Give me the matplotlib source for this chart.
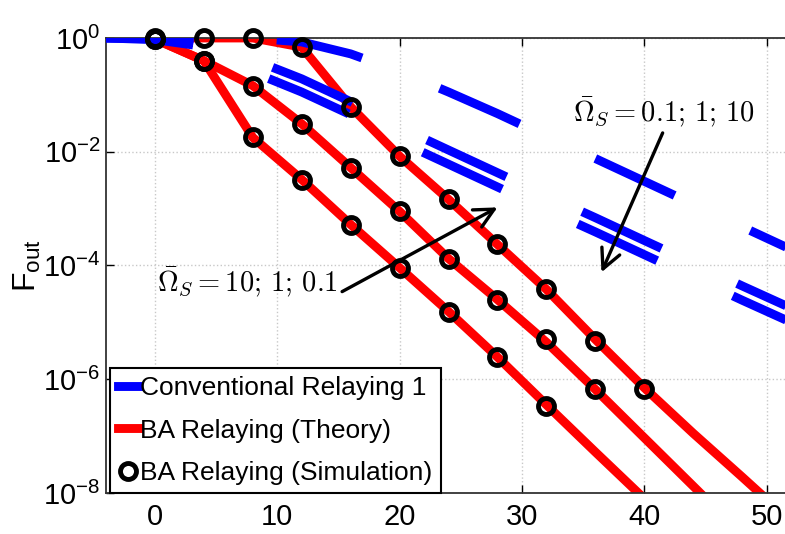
import numpy as np
import matplotlib
matplotlib.use('Agg')
import matplotlib.pyplot as plt
from matplotlib.ticker import FixedLocator, NullLocator, LogFormatterSciNotation

plt.rcParams['font.family'] = ['Liberation Sans', 'DejaVu Sans']
plt.rcParams['lines.scale_dashes'] = False

# SNR grid (dB)
snr_conv = [-4, 0, 4, 8, 12, 16, 20, 24, 28, 32, 36, 40, 44, 48, 52]
snr_ba = [0, 4, 8, 12, 16, 20, 24, 28, 32, 36, 40, 44, 48, 52]

# conventional relaying (three curves)
conv_1 = [1.0, 1.0, 1.0, 0.991, 0.851, 0.525, 0.257, 0.112, 4.68e-2, 1.86e-2,
          7.59e-3, 3.02e-3, 1.20e-3, 4.79e-4, 1.91e-4]
conv_2 = [1.0, 0.966, 0.794, 0.417, 0.191, 7.59e-2, 2.69e-2, 1.07e-2, 4.27e-3,
          1.70e-3, 6.92e-4, 2.75e-4, 1.10e-4, 4.37e-5, 1.78e-5]
conv_3 = [1.0, 0.933, 0.708, 0.251, 0.112, 4.47e-2, 1.51e-2, 6.03e-3, 2.40e-3,
          9.55e-4, 3.89e-4, 1.55e-4, 6.17e-5, 2.45e-5, 1.0e-5]

# BA relaying theory, Omega_S = 10, 1, 0.1
ba_10 = [0.955, 0.398, 1.78e-2, 3.24e-3, 5.25e-4, 9.12e-5, 1.55e-5, 2.45e-6,
         3.55e-7, 5.25e-8, 7.94e-9]
ba_1 = [0.955, 0.398, 0.145, 3.09e-2, 5.25e-3, 8.91e-4, 1.32e-4, 2.51e-5,
        4.47e-6, 6.61e-7, 9.33e-8, 1.32e-8, 1.86e-9]
ba_01 = [1.0, 1.0, 1.0, 0.69, 6.17e-2, 8.32e-3, 1.45e-3, 2.34e-4, 3.80e-5,
         5.01e-6, 7.08e-7, 1.12e-7, 1.91e-8, 3.16e-9]

# BA relaying simulation
sim_10 = [0.955, 0.398, 1.78e-2, 3.24e-3, 5.25e-4, 9.12e-5, 1.55e-5, 2.45e-6, 3.39e-7]
sim_1 = [0.955, 0.398, 0.145, 3.09e-2, 5.25e-3, 8.91e-4, 1.32e-4, 2.51e-5, 5.01e-6, 6.61e-7]
sim_01 = [1.0, 1.0, 1.0, 0.69, 6.17e-2, 8.32e-3, 1.45e-3, 2.34e-4, 3.80e-5, 4.68e-6, 6.61e-7]

fig = plt.figure(figsize=(7.85, 5.34), dpi=100)
ax = fig.add_axes([0.1350, 0.0768, 0.8650, 0.8521])

lw = 6.4
ms, mew = 11.5, 3.5
for y in (ba_10, ba_1, ba_01):
    ax.plot(snr_ba[:len(y)], y, color='red', lw=lw, solid_capstyle='butt', zorder=2)
for y in (conv_1, conv_2, conv_3):
    ax.plot(snr_conv, y, color='blue', lw=lw, dashes=(63, 60), dash_capstyle='butt', zorder=3)
for y in (sim_10, sim_1, sim_01):
    ax.plot(snr_ba[:len(y)], y, ls='none', marker='o', ms=ms, mew=mew,
            mec='black', mfc='none', zorder=4, clip_on=False)

ax.set_yscale('log')
ax.set_xlim(-4, 51.5)
ax.set_ylim(1e-8, 1)
ax.xaxis.set_major_locator(FixedLocator([0, 10, 20, 30, 40, 50]))
ax.yaxis.set_major_locator(FixedLocator([1e-8, 1e-6, 1e-4, 1e-2, 1]))
ax.yaxis.set_major_formatter(LogFormatterSciNotation())
ax.yaxis.set_minor_locator(NullLocator())
ax.grid(True, ls=':', color='#c8c8c8', lw=1.0)
ax.set_axisbelow(True)

for s in ('left', 'bottom', 'top'):
    ax.spines[s].set_linewidth(1.3)
    ax.spines[s].set_color('#333333')
ax.spines['right'].set_visible(False)
ax.tick_params(direction='in', length=6, width=1, top=True, right=False, labelsize=21)
ax.tick_params(axis='x', pad=7)
ax.tick_params(axis='y', pad=4)

ax.set_ylabel(r'$\mathdefault{F_{out}}$', fontsize=23, labelpad=0)

arrow = dict(arrowstyle='->, head_length=0.7, head_width=0.35', lw=2.4, color='black',
             shrinkA=0, shrinkB=0, mutation_scale=20)
ax.annotate('', xy=(28.0, 1.05e-3), xytext=(15.3, 3.47e-5), arrowprops=arrow)
ax.text(0.14, 3.50e-5, r'$\bar{\Omega}_S = 10;\, 1;\, 0.1$', fontsize=20.5,
        math_fontfamily='cm', ha='left', va='baseline')
ax.annotate('', xy=(36.5, 7.59e-5), xytext=(41.5, 2.14e-2), arrowprops=arrow)
ax.text(34.2, 3.40e-2, r'$\bar{\Omega}_S = 0.1;\, 1;\, 10$', fontsize=20.5,
        math_fontfamily='cm', ha='left', va='baseline')

h_conv = plt.Line2D([], [], color='blue', lw=lw)
h_th = plt.Line2D([], [], color='red', lw=lw)
h_sim = plt.Line2D([], [], ls='none', marker='o', ms=ms, mew=mew, mec='black', mfc='none')
leg = ax.legend([h_conv, h_th, h_sim],
                ['Conventional Relaying 1', 'BA Relaying (Theory)', 'BA Relaying (Simulation)'],
                loc='lower left', bbox_to_anchor=(0.006, 0.0), borderaxespad=0,
                fontsize=19, handlelength=0.75, handletextpad=0.1, borderpad=0.3,
                labelspacing=0.7, fancybox=False, framealpha=1, edgecolor='black', numpoints=1)
leg.get_frame().set_linewidth(1.5)
leg.set_zorder(10)

fig.savefig('out.png', dpi=100)
